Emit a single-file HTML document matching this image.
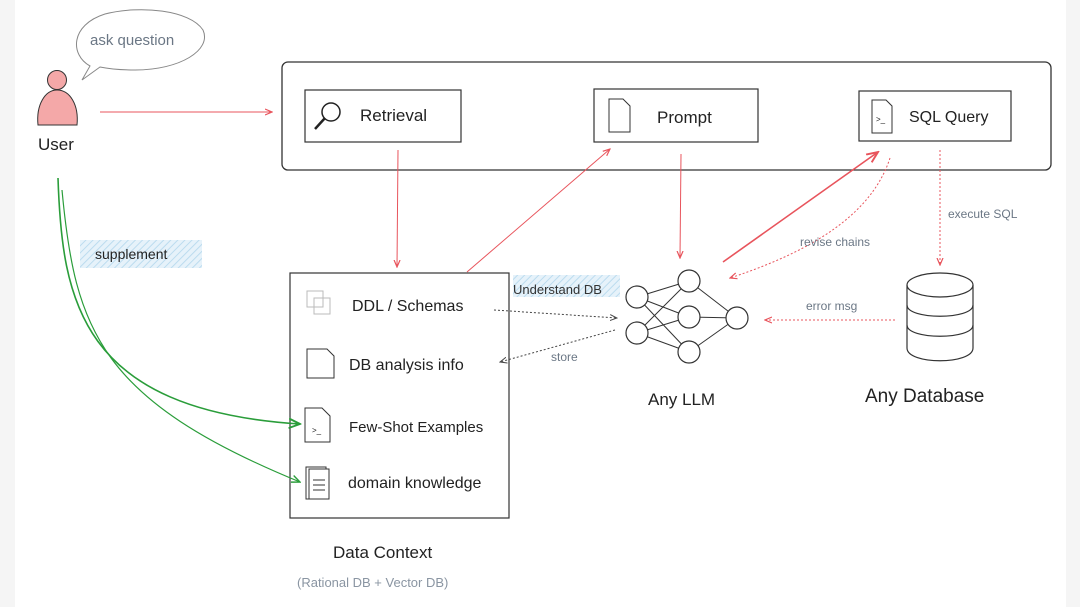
<!DOCTYPE html>
<html><head><meta charset="utf-8"><style>
body{margin:0;background:#fff;}
svg{display:block}
text{font-family:"Liberation Sans",sans-serif;}
</style></head><body>
<svg width="1080" height="607" viewBox="0 0 1080 607" xmlns="http://www.w3.org/2000/svg">
<defs>
<marker id="ar" markerWidth="8" markerHeight="8" refX="7" refY="4" orient="auto"><path d="M0,1 L7,4 L0,7" fill="none" stroke="#e8545c" stroke-width="1.2"/></marker>
<marker id="ag" markerWidth="8" markerHeight="8" refX="7" refY="4" orient="auto"><path d="M0,1 L7,4 L0,7" fill="none" stroke="#2a9d3a" stroke-width="1.2"/></marker>
<marker id="ak" markerWidth="8" markerHeight="8" refX="7" refY="4" orient="auto"><path d="M0,1 L7,4 L0,7" fill="none" stroke="#444" stroke-width="1"/></marker>
<pattern id="hatch" width="5" height="5" patternUnits="userSpaceOnUse" patternTransform="rotate(45)"><rect width="5" height="5" fill="#e6f2fa"/><line x1="0" y1="0" x2="0" y2="5" stroke="#bcdcef" stroke-width="2"/></pattern>
</defs>
<rect x="0" y="0" width="15" height="607" fill="#f5f5f5"/>
<rect x="1066" y="0" width="14" height="607" fill="#f5f5f5"/>

<!-- speech bubble -->
<path d="M90,66 C70,55 70,25 105,14 C140,5 190,10 203,30 C212,50 180,70 135,70 C115,70 105,68 100,67 L82,80 Z" fill="none" stroke="#888" stroke-width="1"/>
<text x="90" y="45" font-size="15" fill="#6b7785">ask question</text>
<!-- user -->
<circle cx="57" cy="80" r="9.5" fill="#f4a8a8" stroke="#333" stroke-width="1"/>
<path d="M38,125 C36,105 45,90 57,90 C70,90 79,105 77,125 Z" fill="#f4a8a8" stroke="#333" stroke-width="1"/>
<text x="38" y="150" font-size="17" fill="#222">User</text>
<line x1="100" y1="112" x2="272" y2="112" stroke="#e8545c" stroke-width="1" marker-end="url(#ar)"/>

<!-- outer box -->
<rect x="282" y="62" width="769" height="108" rx="6" fill="none" stroke="#333" stroke-width="1.3"/>
<rect x="305" y="90" width="156" height="52" fill="none" stroke="#333" stroke-width="1.2"/>
<circle cx="331" cy="112" r="9" fill="none" stroke="#222" stroke-width="1.5"/>
<line x1="325" y1="118" x2="315" y2="129" stroke="#222" stroke-width="2.5"/>
<text x="360" y="121" font-size="17" fill="#222">Retrieval</text>
<rect x="594" y="89" width="164" height="53" fill="none" stroke="#333" stroke-width="1.2"/>
<path d="M609,99 H623 L630,106 V132 H609 Z" fill="none" stroke="#333"/>
<text x="657" y="123" font-size="17" fill="#222">Prompt</text>
<rect x="859" y="91" width="152" height="50" fill="none" stroke="#333" stroke-width="1.2"/>
<path d="M872,100 H886 L892,106 V133 H872 Z" fill="none" stroke="#333"/>
<text x="876" y="122" font-size="8" fill="#222">&gt;_</text>
<text x="909" y="122" font-size="16" fill="#222">SQL Query</text>

<!-- arrows -->
<line x1="398" y1="150" x2="397" y2="267" stroke="#e8545c" stroke-width="1" marker-end="url(#ar)"/>
<line x1="467" y1="272" x2="610" y2="149" stroke="#e8545c" stroke-width="1" marker-end="url(#ar)"/>
<line x1="681" y1="154" x2="680" y2="258" stroke="#e8545c" stroke-width="1" marker-end="url(#ar)"/>
<line x1="723" y1="262" x2="878" y2="152" stroke="#e8545c" stroke-width="1.6" marker-end="url(#ar)"/>
<path d="M890,158 C870,220 800,255 730,278" fill="none" stroke="#e8545c" stroke-width="1" stroke-dasharray="2,2" marker-end="url(#ar)"/>
<text x="800" y="246" font-size="12" fill="#6b7785">revise chains</text>
<line x1="940" y1="150" x2="940" y2="265" stroke="#e8545c" stroke-width="1" stroke-dasharray="2,2" marker-end="url(#ar)"/>
<text x="948" y="218" font-size="12" fill="#6b7785">execute SQL</text>
<line x1="895" y1="320" x2="765" y2="320" stroke="#e8545c" stroke-width="1" stroke-dasharray="2,2" marker-end="url(#ar)"/>
<text x="806" y="310" font-size="12" fill="#6b7785">error msg</text>

<!-- data context -->
<rect x="290" y="273" width="219" height="245" fill="none" stroke="#333" stroke-width="1.2"/>
<rect x="307" y="291" width="16" height="16" fill="none" stroke="#bbb"/>
<rect x="314" y="298" width="16" height="16" fill="none" stroke="#bbb"/>
<text x="352" y="311" font-size="16" fill="#222">DDL / Schemas</text>
<path d="M307,349 H327 L334,356 V378 H307 Z" fill="none" stroke="#333"/>
<text x="349" y="370" font-size="16" fill="#222">DB analysis info</text>
<path d="M305,408 H322 L330,416 V442 H305 Z" fill="none" stroke="#333"/>
<text x="312" y="433" font-size="8" fill="#222">&gt;_</text>
<text x="349" y="432" font-size="15" fill="#222">Few-Shot Examples</text>
<rect x="306" y="467" width="20" height="32" fill="none" stroke="#333"/>
<rect x="309" y="469" width="20" height="30" fill="#fff" stroke="#333"/>
<line x1="313" y1="480" x2="325" y2="480" stroke="#333"/><line x1="313" y1="485" x2="325" y2="485" stroke="#333"/><line x1="313" y1="490" x2="325" y2="490" stroke="#333"/>
<text x="348" y="488" font-size="16" fill="#222">domain knowledge</text>
<text x="333" y="558" font-size="17" fill="#222">Data Context</text>
<text x="297" y="587" font-size="13" fill="#8a95a2">(Rational DB + Vector DB)</text>

<rect x="513" y="275" width="107" height="22" fill="url(#hatch)"/>
<text x="513" y="294" font-size="13" fill="#333">Understand DB</text>
<line x1="494" y1="310" x2="617" y2="318" stroke="#444" stroke-width="1" stroke-dasharray="2,2" marker-end="url(#ak)"/>
<line x1="615" y1="330" x2="500" y2="362" stroke="#444" stroke-width="1" stroke-dasharray="2,2" marker-end="url(#ak)"/>
<text x="551" y="361" font-size="12" fill="#6b7785">store</text>

<!-- LLM -->
<g stroke="#333" stroke-width="1" fill="none">
<line x1="637" y1="297" x2="689" y2="281"/><line x1="637" y1="297" x2="689" y2="317"/><line x1="637" y1="297" x2="689" y2="352"/>
<line x1="637" y1="333" x2="689" y2="281"/><line x1="637" y1="333" x2="689" y2="317"/><line x1="637" y1="333" x2="689" y2="352"/>
<line x1="689" y1="281" x2="737" y2="318"/><line x1="689" y1="317" x2="737" y2="318"/><line x1="689" y1="352" x2="737" y2="318"/>
</g>
<g stroke="#333" stroke-width="1.2" fill="#fff">
<circle cx="637" cy="297" r="11"/><circle cx="637" cy="333" r="11"/>
<circle cx="689" cy="281" r="11"/><circle cx="689" cy="317" r="11"/><circle cx="689" cy="352" r="11"/>
<circle cx="737" cy="318" r="11"/>
</g>
<text x="648" y="405" font-size="17" fill="#222">Any LLM</text>

<!-- DB -->
<g stroke="#333" stroke-width="1.2" fill="none">
<path d="M907,285 V348 C907,365 973,365 973,348 V285"/>
<ellipse cx="940" cy="285" rx="33" ry="12"/>
<path d="M907,305 C907,320 973,320 973,305"/>
<path d="M907,325 C907,340 973,340 973,325"/>
</g>
<text x="865" y="402" font-size="19" fill="#222">Any Database</text>

<!-- green -->
<rect x="80" y="240" width="122" height="28" fill="url(#hatch)"/>
<text x="95" y="259" font-size="14" fill="#222">supplement</text>
<path d="M58,178 C62,300 80,410 300,424" fill="none" stroke="#2a9d3a" stroke-width="1.6" marker-end="url(#ag)"/>
<path d="M62,190 C75,330 100,400 300,482" fill="none" stroke="#2a9d3a" stroke-width="1.2" marker-end="url(#ag)"/>
</svg>
</body></html>
